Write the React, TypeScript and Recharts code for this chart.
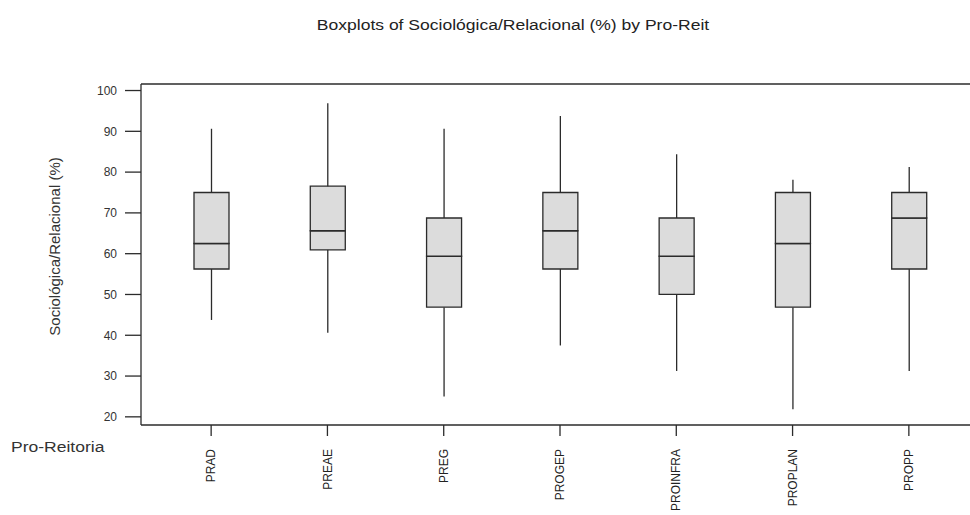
import { ComposedChart, Bar, XAxis, YAxis, ReferenceLine } from "recharts";

const categories = ["PRAD", "PREAE", "PREG", "PROGEP", "PROINFRA", "PROPLAN", "PROPP"];
const whiskerLow = [43.75, 40.625, 25, 37.5, 31.25, 21.875, 31.25];
const q1 = [56.25, 60.9375, 46.875, 56.25, 50, 46.875, 56.25];
const median = [62.5, 65.625, 59.375, 65.625, 59.375, 62.5, 68.75];
const q3 = [75, 76.5625, 68.75, 75, 68.75, 75, 75];
const whiskerHigh = [90.625, 96.875, 90.625, 93.75, 84.375, 78.125, 81.25];
const yTicks = [20, 30, 40, 50, 60, 70, 80, 90, 100];

const Y_MIN = 18;
const Y_MAX = 101.6;
const FONT = '"Liberation Sans", Arial, sans-serif';
const INK = "#2b2b2b";

// stacked segments: invisible base, lower whisker, lower box, upper box, upper whisker
const chartData = categories.map((name, i) => ({
  name,
  base: whiskerLow[i],
  lowWhisker: q1[i] - whiskerLow[i],
  lowBox: median[i] - q1[i],
  highBox: q3[i] - median[i],
  highWhisker: whiskerHigh[i] - q3[i],
}));

const Whisker = (props: any) => {
  const { x, y, width, height } = props;
  const cx = x + width / 2;
  return <line x1={cx} x2={cx} y1={y} y2={y + height} stroke={INK} strokeWidth={1.3} />;
};

const XTick = ({ x, y, payload }: any) => (
  <text
    transform={`translate(${x},${y}) rotate(-90)`}
    textAnchor="end"
    dy="0.35em"
    fontSize={12}
    fontFamily={FONT}
    fill="#222"
  >
    {payload.value}
  </text>
);

const YLabel = ({ viewBox }: any) => {
  const cy = viewBox.y + viewBox.height / 2 - 8;
  return (
    <text
      x={54}
      y={cy}
      transform={`rotate(-90, 54, ${cy})`}
      textAnchor="middle"
      dominantBaseline="central"
      fontSize={15}
      fontFamily={FONT}
      fill="#333"
    >
      Sociológica/Relacional (%)
    </text>
  );
};

export default function App() {
  return (
    <div
      style={{
        position: "absolute",
        left: 0,
        top: 0,
        width: 970,
        height: 515,
        overflow: "hidden",
        background: "#fff",
        fontFamily: FONT,
      }}
    >
      <div
        style={{
          position: "absolute",
          left: 513,
          top: 17,
          fontSize: 15.5,
          lineHeight: 1,
          whiteSpace: "nowrap",
          color: "#222",
          transform: "translateX(-50%) scaleX(1.13)",
        }}
      >
        Boxplots of Sociológica/Relacional (%) by Pro-Reit
      </div>
      <div
        style={{
          position: "absolute",
          left: 11,
          top: 439,
          fontSize: 15.5,
          lineHeight: 1,
          whiteSpace: "nowrap",
          color: "#333",
          transform: "scaleX(1.13)",
          transformOrigin: "left top",
        }}
      >
        Pro-Reitoria
      </div>
      <ComposedChart
        width={990}
        height={515}
        data={chartData}
        margin={{ top: 84, right: 11, left: 0, bottom: 0 }}
      >
        <XAxis
          dataKey="name"
          height={90}
          padding={{ left: 12, right: 12 }}
          axisLine={{ stroke: INK, strokeWidth: 1.3 }}
          tickLine={{ stroke: INK, strokeWidth: 1.3 }}
          tickSize={11}
          tickMargin={13}
          interval={0}
          tick={<XTick />}
        />
        <YAxis
          type="number"
          domain={[Y_MIN, Y_MAX]}
          allowDataOverflow
          ticks={yTicks}
          width={141}
          axisLine={{ stroke: INK, strokeWidth: 1.3 }}
          tickLine={{ stroke: INK, strokeWidth: 1.3 }}
          tickSize={16}
          tickMargin={8}
          tick={{ fontSize: 12, fill: "#333", fontFamily: FONT }}
          label={<YLabel />}
        />
        <ReferenceLine y={Y_MAX} stroke={INK} strokeWidth={1.3} />
        <Bar dataKey="base" stackId="b" barSize={35} fill="none" isAnimationActive={false} />
        <Bar dataKey="lowWhisker" stackId="b" barSize={35} shape={<Whisker />} isAnimationActive={false} />
        <Bar
          dataKey="lowBox"
          stackId="b"
          barSize={35}
          fill="#dcdcdc"
          stroke={INK}
          strokeWidth={1.3}
          isAnimationActive={false}
        />
        <Bar
          dataKey="highBox"
          stackId="b"
          barSize={35}
          fill="#dcdcdc"
          stroke={INK}
          strokeWidth={1.3}
          isAnimationActive={false}
        />
        <Bar dataKey="highWhisker" stackId="b" barSize={35} shape={<Whisker />} isAnimationActive={false} />
      </ComposedChart>
    </div>
  );
}
